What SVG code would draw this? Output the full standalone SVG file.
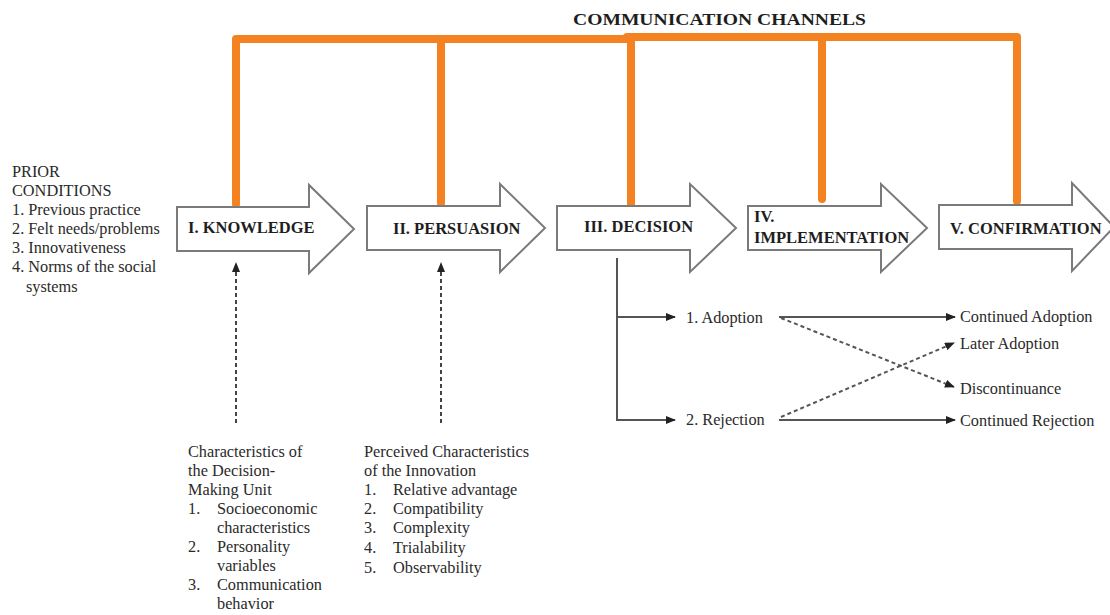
<svg xmlns="http://www.w3.org/2000/svg" width="1110" height="615" viewBox="0 0 1110 615">
  <style>
    .txt { font-family: "Liberation Serif", "Times New Roman", serif; font-size: 16.3px; fill: #2a2a2a; }
    .stage { font-family: "Liberation Serif", "Times New Roman", serif; font-size: 16.5px; font-weight: bold; fill: #1e1e1e; }
    .title { font-family: "Liberation Serif", "Times New Roman", serif; font-size: 17.5px; font-weight: bold; fill: #1e1e1e; }
    .block { fill: #ffffff; stroke: #7a7a7a; stroke-width: 2; stroke-linejoin: miter; }
    .channel { fill: none; stroke: #f58220; stroke-width: 8; stroke-linecap: round; stroke-linejoin: round; }
    .solid { fill: none; stroke: #555555; stroke-width: 2; }
    .dash { fill: none; stroke: #555555; stroke-width: 2; stroke-dasharray: 4 3; }
    .vdash { fill: none; stroke: #444444; stroke-width: 2; stroke-dasharray: 4 3; }
  </style>
  <defs>
    <marker id="head" markerUnits="userSpaceOnUse" markerWidth="10" markerHeight="8" refX="9" refY="4" orient="auto">
      <path d="M0,0 L10,4 L0,8 Z" fill="#222222"/>
    </marker>
  </defs>

  <rect width="1110" height="615" fill="#ffffff"/>

  <!-- communication channels bar -->
  <g id="channels">
    <text class="title" x="573" y="25" textLength="293" lengthAdjust="spacingAndGlyphs">COMMUNICATION CHANNELS</text>
    <path class="channel" d="M236,204 L236,39 L631,39"/>
    <path class="channel" d="M627,37 L1017,37 L1017,201"/>
    <line class="channel" x1="441" y1="39" x2="441" y2="203"/>
    <line class="channel" x1="631" y1="37" x2="631" y2="204"/>
    <line class="channel" x1="822" y1="37" x2="822" y2="199"/>
  </g>

  <!-- stage arrows -->
  <g id="knowledge">
    <path class="block" d="M177,207 L309,207 L309,185 L354,229 L309,273 L309,251 L177,251 Z"/>
    <text class="stage" x="188" y="233">I. KNOWLEDGE</text>
  </g>
  <g id="persuasion">
    <path class="block" d="M367,206 L500,206 L500,184 L545,228 L500,272 L500,250 L367,250 Z"/>
    <text class="stage" x="393" y="234">II. PERSUASION</text>
  </g>
  <g id="decision">
    <path class="block" d="M557,206 L690,206 L690,184 L736,228 L690,272 L690,250 L557,250 Z"/>
    <text class="stage" x="584" y="232">III. DECISION</text>
  </g>
  <g id="implementation">
    <path class="block" d="M748,206 L881,206 L881,184 L927,228 L881,272 L881,250 L748,250 Z"/>
    <text class="stage" x="754" y="222">IV.</text>
    <text class="stage" x="754" y="243">IMPLEMENTATION</text>
  </g>
  <g id="confirmation">
    <path class="block" d="M939,205 L1072,205 L1072,183 L1114,227 L1072,271 L1072,249 L939,249 Z"/>
    <text class="stage" x="950" y="234">V. CONFIRMATION</text>
  </g>

  <!-- prior conditions -->
  <g id="prior-conditions">
    <text class="txt" x="12" y="177">PRIOR</text>
    <text class="txt" x="12" y="196">CONDITIONS</text>
    <text class="txt" x="12" y="215">1. Previous practice</text>
    <text class="txt" x="12" y="234">2. Felt needs/problems</text>
    <text class="txt" x="12" y="253">3. Innovativeness</text>
    <text class="txt" x="12" y="272">4. Norms of the social</text>
    <text class="txt" x="26" y="292">systems</text>
  </g>

  <!-- decision-making unit -->
  <g id="decision-unit">
    <text class="txt" x="188" y="457">Characteristics of</text>
    <text class="txt" x="188" y="476">the Decision-</text>
    <text class="txt" x="188" y="495">Making Unit</text>
    <text class="txt" x="188" y="514">1.</text>
    <text class="txt" x="217" y="514">Socioeconomic</text>
    <text class="txt" x="217" y="533">characteristics</text>
    <text class="txt" x="188" y="552">2.</text>
    <text class="txt" x="217" y="552">Personality</text>
    <text class="txt" x="217" y="571">variables</text>
    <text class="txt" x="188" y="590">3.</text>
    <text class="txt" x="217" y="590">Communication</text>
    <text class="txt" x="217" y="609">behavior</text>
  </g>

  <!-- innovation characteristics -->
  <g id="innovation">
    <text class="txt" x="364" y="457">Perceived Characteristics</text>
    <text class="txt" x="364" y="476">of the Innovation</text>
    <text class="txt" x="364" y="495">1.</text>
    <text class="txt" x="393" y="495">Relative advantage</text>
    <text class="txt" x="364" y="514">2.</text>
    <text class="txt" x="393" y="514">Compatibility</text>
    <text class="txt" x="364" y="533">3.</text>
    <text class="txt" x="393" y="533">Complexity</text>
    <text class="txt" x="364" y="553">4.</text>
    <text class="txt" x="393" y="553">Trialability</text>
    <text class="txt" x="364" y="573">5.</text>
    <text class="txt" x="393" y="573">Observability</text>
  </g>

  <!-- outcomes -->
  <g id="adoption"><text class="txt" x="686" y="323">1. Adoption</text></g>
  <g id="rejection"><text class="txt" x="686" y="425">2. Rejection</text></g>
  <g id="continued-adoption"><text class="txt" x="960" y="322">Continued Adoption</text></g>
  <g id="later-adoption"><text class="txt" x="960" y="349">Later Adoption</text></g>
  <g id="discontinuance"><text class="txt" x="960" y="394">Discontinuance</text></g>
  <g id="continued-rejection"><text class="txt" x="960" y="426">Continued Rejection</text></g>

  <!-- connectors -->
  <g id="connectors">
    <line class="vdash" x1="236" y1="423" x2="236" y2="263" marker-end="url(#head)"/>
    <line class="vdash" x1="441" y1="423" x2="441" y2="263" marker-end="url(#head)"/>
    <path class="solid" d="M617,258 L617,420 L675,420" marker-end="url(#head)"/>
    <line class="solid" x1="617" y1="317" x2="675" y2="317" marker-end="url(#head)"/>
    <line class="solid" x1="779" y1="317" x2="955" y2="317" marker-end="url(#head)"/>
    <line class="solid" x1="779" y1="420" x2="955" y2="420" marker-end="url(#head)"/>
    <line class="dash" x1="781" y1="318" x2="954" y2="387" marker-end="url(#head)"/>
    <line class="dash" x1="781" y1="417" x2="954" y2="343" marker-end="url(#head)"/>
  </g>
</svg>
